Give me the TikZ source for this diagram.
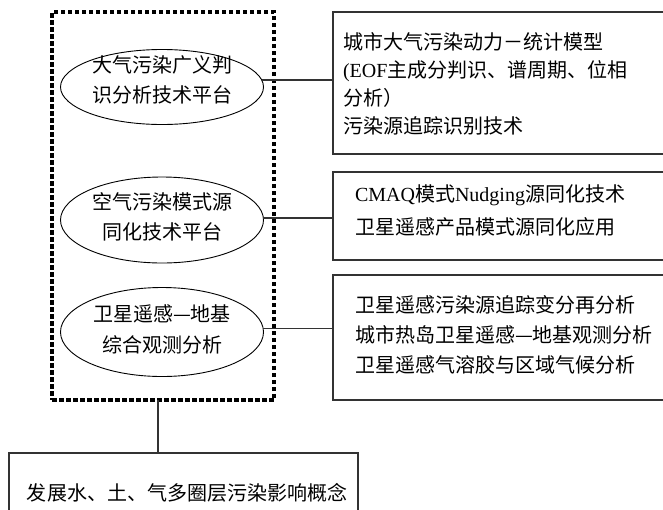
\documentclass[tikz,border=0pt]{standalone}
\usepackage{fontspec}
\usetikzlibrary{shapes.geometric}
\newfontfamily\cjk{Noto Sans CJK SC}
\newfontfamily\lat{Liberation Serif}
\definecolor{linegray}{HTML}{333333}
\tikzset{
  dotbox/.style={draw=black, line width=4.5pt, dash pattern=on 4.5pt off 2.5pt, inner sep=0pt, outer sep=0pt},
  oval/.style={draw=black, line width=0.9pt, ellipse, inner sep=0pt, outer sep=0pt, minimum width=203pt},
  infobox/.style={draw=linegray, line width=1.2pt, rectangle, inner sep=0pt, outer sep=0pt},
  conn/.style={draw=linegray, line width=1.5pt},
  txt/.style={inner sep=0pt, outer sep=0pt, align=left, text=black},
}
\newcommand{\tsize}[1]{\cjk\fontsize{20pt}{#1}\selectfont}
\begin{document}
\begin{tikzpicture}[x=1pt,y=-1pt]
\useasboundingbox (0,0) rectangle (663,509);
\clip (0,0) rectangle (663,509);
\fill[white] (0,0) rectangle (663,509);

% dotted group frame
\node[dotbox, minimum width=222pt, minimum height=388pt] (grp) at (163,206) {};

% ellipses
\node[oval, minimum height=75pt] (e1) at (162,87) {};
\node[oval, minimum height=86pt] (e2) at (162,220) {};
\node[oval, minimum height=89pt] (e3) at (162,332) {};
\node[txt, align=center, font=\tsize{30pt}] (t1) at (162,80) {大气污染广义判\\识分析技术平台};
\node[txt, align=center, font=\tsize{30pt}] (t2) at (162,217) {空气污染模式源\\同化技术平台};
\node[txt, align=center, font=\tsize{31pt}] (t3) at (162,329) {卫星遥感—地基\\综合观测分析};

% right boxes
\node[infobox, minimum width=367pt, minimum height=142pt] (b1) at (516.5,83) {};
\node[infobox, minimum width=367pt, minimum height=88pt] (b2) at (516.5,216) {};
\node[infobox, minimum width=367pt, minimum height=125pt] (b3) at (516.5,337.5) {};
\node[txt, anchor=west, font=\tsize{28pt}] (bt1) at (343,84)
  {城市大气污染动力－统计模型\\{\lat (EOF}主成分判识、谱周期、位相\\分析）\\污染源追踪识别技术};
\node[txt, anchor=west, font=\tsize{33pt}] (bt2) at (355,210.5)
  {{\lat CMAQ}模式{\lat Nudging}源同化技术\\卫星遥感产品模式源同化应用};
\node[txt, anchor=west, font=\tsize{30pt}] (bt3) at (355,335)
  {卫星遥感污染源追踪变分再分析\\城市热岛卫星遥感—地基观测分析\\卫星遥感气溶胶与区域气候分析};

% bottom box
\node[infobox, minimum width=349pt, minimum height=87pt] (bot) at (183.5,496.5) {};
\node[txt, anchor=west, font=\tsize{24pt}] (bott) at (27,493) {发展水、土、气多圈层污染影响概念};

% connectors
\draw[conn] (e1.4) -- (e1.4 -| b1.west);
\draw[conn] (e2.1) -- (e2.1 -| b2.west);
\draw[conn] (e3.2) -- (e3.2 -| b3.west);
\draw[conn] ([xshift=-5pt]grp.south) -- ([xshift=-5pt]grp.south |- bot.north);
\end{tikzpicture}
\end{document}
